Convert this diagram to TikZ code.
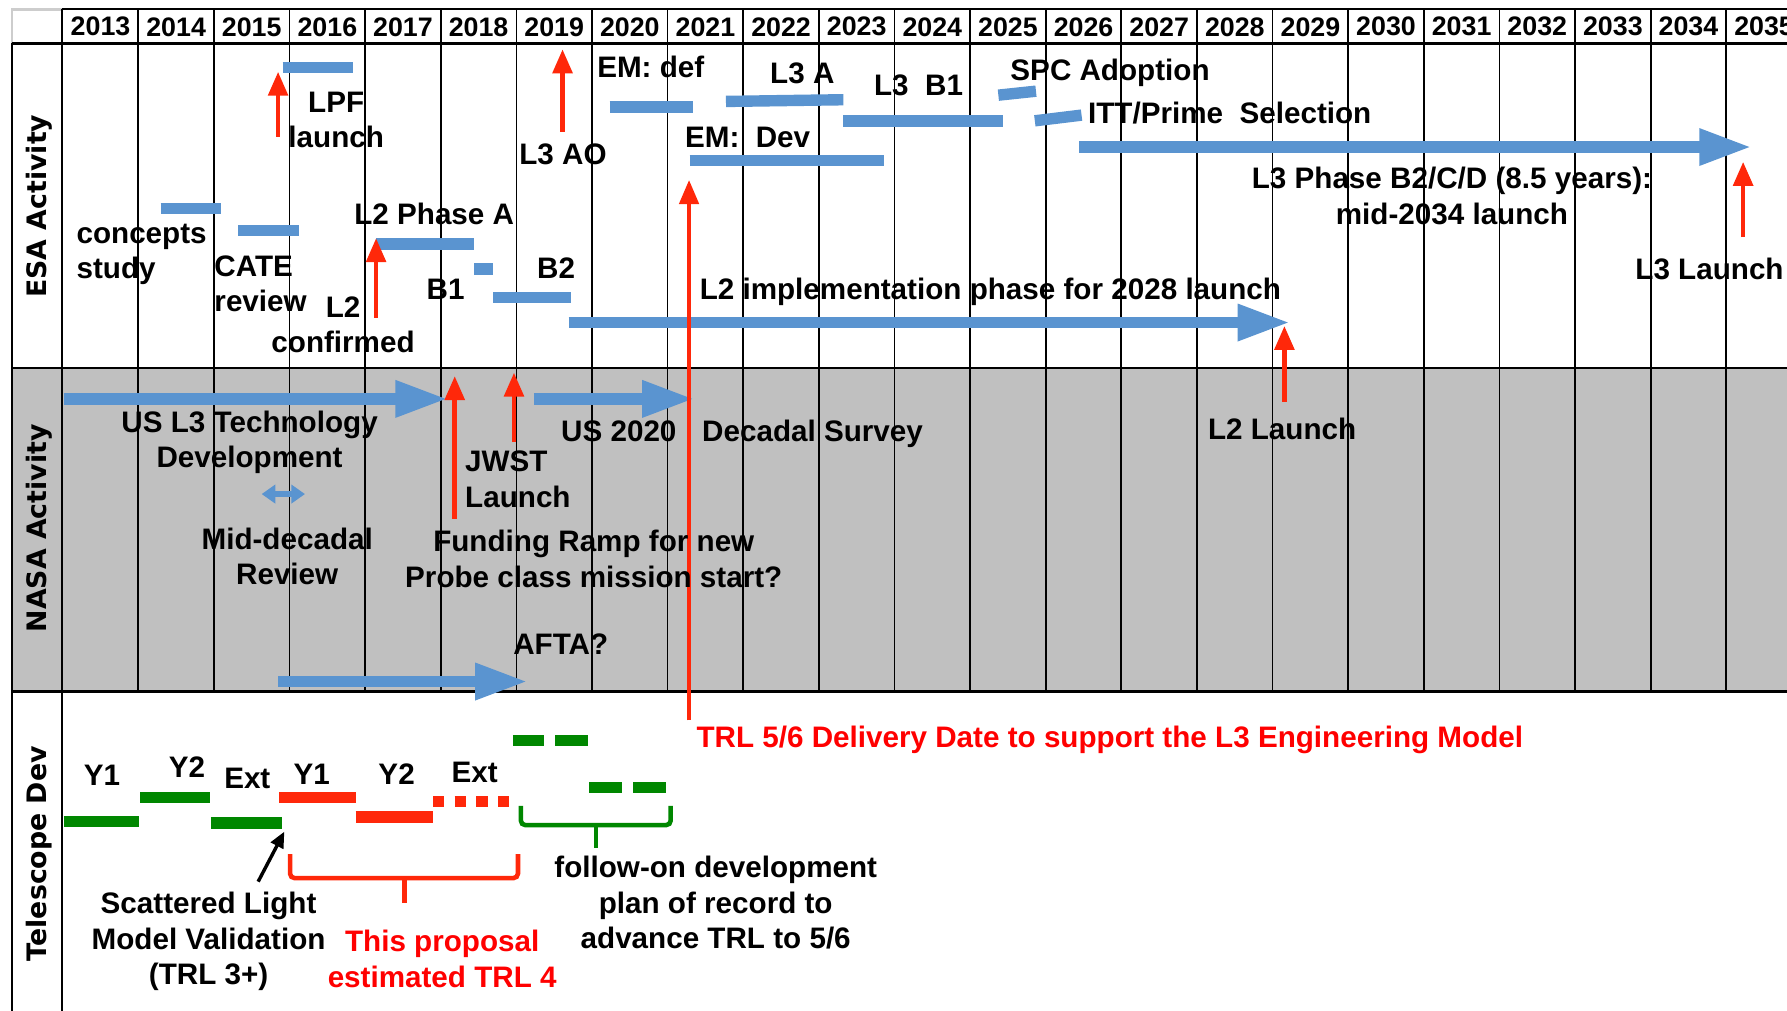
\documentclass[tikz,border=0pt]{standalone}
\usepackage{fontspec}
\setmainfont{Liberation Sans}
\newfontfamily\labfont{DejaVu Sans}
\usetikzlibrary{arrows.meta}
\definecolor{barblue}{RGB}{90,148,208}
\definecolor{arrred}{RGB}{255,40,10}
\definecolor{bargreen}{RGB}{0,135,0}
\definecolor{txtred}{RGB}{255,0,0}
\definecolor{nasagray}{RGB}{192,192,192}
\definecolor{cellgray}{RGB}{205,205,205}
\tikzset{
  txt/.style={font=\bfseries\fontsize{26}{31}\selectfont, inner sep=0pt, align=center},
  yr/.style={font=\bfseries\fontsize{23.5}{28}\selectfont, inner sep=0pt},
  rowlab/.style={font=\labfont\bfseries\fontsize{23.5}{28}\selectfont, rotate=90, inner sep=0pt},
  vline/.style={black, line width=1.5pt},
  hline/.style={black, line width=2.3pt},
  bluebar/.style={barblue, line width=10pt},
  bigarrow/.style={barblue, line width=10pt, -{Triangle[length=46pt,width=30pt]}},
  redarrow/.style={arrred, line width=4pt, -{Triangle[length=21pt,width=17pt]}},
  greenbar/.style={bargreen, line width=10pt},
  redbar/.style={arrred, line width=10pt},
  bracket/.style={line width=4pt, rounded corners=4pt}
}
\begin{document}
\begin{tikzpicture}[x=1pt,y=-1pt]
\useasboundingbox (0,0) rectangle (1568,887);
\clip (0,0) rectangle (1568,887);
\fill[white] (0,0) rectangle (1568,887);
% NASA band
\fill[nasagray] (10.5,323) rectangle (1568,607);
% grid
\draw[cellgray, line width=2.5pt] (10.5,38) -- (10.5,8) -- (54.5,8);
\draw[hline] (54.5,8) -- (1568,8);
\draw[vline] (10.5,38) -- (10.5,887);
\draw[vline] (54.5,8) -- (54.5,887);
\foreach \k in {1,...,22} \draw[vline] ({55+66.35*\k},8) -- ({55+66.35*\k},607);
\foreach \yy in {38,323,607} \draw[hline] (10.5,\yy) -- (1568,\yy);
% years
\foreach \yr [count=\i from 0] in {2013,...,2035}
  \node[yr] (y\i) at ({55+66.35*\i+33.2},23.5) {\yr};
% row labels
\node[rowlab] (esa) at (34,181) {ESA Activity};
\node[rowlab] (nasa) at (34,463.5) {NASA Activity};
\node[rowlab] (tel) at (34,749) {Telescope Dev};
% ESA blue bars
\draw[bluebar] (248,59) -- (310,59);
\draw[bluebar] (141,183) -- (194,183);
\draw[bluebar] (209,202) -- (262,202);
\draw[bluebar] (330,214) -- (416,214);
\draw[bluebar] (416,236) -- (433,236);
\draw[bluebar] (433,261) -- (501,261);
\draw[bluebar] (535,94) -- (608,94);
\draw[bluebar] (637,89) -- (740,87.5);
\draw[bluebar] (740,106) -- (880,106);
\draw[bluebar] (605,141) -- (776,141);
\draw[bluebar] (876,83.5) -- (909,80);
\draw[bluebar] (908,106) -- (949,101);
\draw[bigarrow] (499,283) -- (1132,283);
\draw[bigarrow] (947,129) -- (1537,129);
% NASA blue arrows
\draw[bigarrow] (56,350) -- (393,350);
\draw[bigarrow] (468.5,350) -- (609.5,350);
\draw[bigarrow] (244,598) -- (463,598);
\draw[barblue, line width=5pt, {Triangle[length=12pt,width=16pt]}-{Triangle[length=12pt,width=16pt]}] (229.6,433.5) -- (267.6,433.5);
% red arrows
\draw[redarrow] (244,120) -- (244,63);
\draw[redarrow] (493.6,115.5) -- (493.6,43.3);
\draw[redarrow] (330,279) -- (330,209);
\draw[redarrow, line width=3pt] (604.6,632) -- (604.6,158);
\draw[redarrow] (1529.5,208) -- (1529.5,142);
\draw[redarrow] (1127,352.5) -- (1127,286);
\draw[redarrow] (399,455) -- (399,330);
\draw[redarrow] (451,388) -- (451,327);
% telescope bars
\draw[greenbar] (56,721) -- (122,721);
\draw[greenbar] (123,699.6) -- (184,699.6);
\draw[greenbar] (185,722) -- (247,722);
\draw[redbar] (245,700) -- (312,700);
\draw[redbar] (312,717) -- (380,717);
\draw[redbar, dash pattern=on 10pt off 9pt] (380,703) -- (448,703);
\draw[greenbar] (450,650) -- (477.5,650);
\draw[greenbar] (487,650) -- (516,650);
\draw[greenbar] (517,691) -- (546,691);
\draw[greenbar] (555.5,691) -- (584.5,691);
% brackets
\draw[bracket, bargreen] (457,707) -- (457,724) -- (588.5,724) -- (588.5,707);
\draw[bargreen, line width=4pt] (523,724) -- (523,744);
\draw[bracket, arrred] (254.5,749.5) -- (254.5,770.5) -- (454.5,770.5) -- (454.5,749.5);
\draw[arrred, line width=4pt] (355,770.5) -- (355,792.5);
\draw[black, line width=3pt, -{Triangle[length=14pt,width=12pt]}] (226.5,773.6) -- (249.5,729.7);
% ESA texts
\node[txt] (lpf) at (295,105) {LPF\\launch};
\node[txt, anchor=west, align=left] (concepts) at (67,223) {concepts\\study};
\node[txt, anchor=west, align=left] (cate) at (188,249) {CATE\\review};
\node[txt] (l2conf) at (301,285) {L2\\confirmed};
\node[txt] (l2pa) at (381,188) {L2 Phase A};
\node[txt] (b1) at (391,254) {B1};
\node[txt] (b2) at (488,235) {B2};
\node[txt] (l3ao) at (494,135) {L3 AO};
\node[txt] (emdef) at (571,59) {EM: def};
\node[txt] (l3a) at (704,64) {L3 A};
\node[txt] (l3b1) at (806,75) {L3\ \ B1};
\node[txt] (spc) at (974,63.5) {SPC Adoption};
\node[txt] (itt) at (1079,99) {ITT/Prime\ \ Selection};
\node[txt] (emdev) at (656,121) {EM:\ \ Dev};
\node[txt] (l3bcd) at (1274,172) {L3 Phase B2/C/D (8.5 years):\\mid-2034 launch};
\node[txt] (l3launch) at (1500,236) {L3 Launch};
\node[txt] (l2impl) at (869,256) {L2 implementation phase for 2028 launch};
% NASA texts
\node[txt] (usl3) at (219,388) {US L3 Technology\\Development};
\node[txt] (middec) at (252,488) {Mid-decadal\\Review};
\node[txt, anchor=west, align=left] (jwst) at (408,420.5) {JWST\\Launch};
\node[txt] (funding) at (521,490.5) {Funding Ramp for new\\Probe class mission start?};
\node[txt] (us2020) at (543,378) {US 2020};
\node[txt] (decadal) at (713,380.5) {Decadal Survey};
\node[txt] (l2launch) at (1125,376) {L2 Launch};
\node[txt] (afta) at (492,565) {AFTA?};
% Telescope texts
\node[txt, txtred, anchor=west] (trl) at (611,649.5) {TRL 5/6 Delivery Date to support the L3 Engineering Model};
\node[txt] (ya1) at (89.5,680) {Y1};
\node[txt] (ya2) at (164,673) {Y2};
\node[txt] (yaext) at (217,683) {Ext};
\node[txt] (yb1) at (273.5,679) {Y1};
\node[txt] (yb2) at (348,679) {Y2};
\node[txt] (ybext) at (416.5,678) {Ext};
\node[txt] (scat) at (183,826) {Scattered Light\\Model Validation\\(TRL 3+)};
\node[txt, txtred] (prop) at (388,841.5) {This proposal\\estimated TRL 4};
\node[txt] (follow) at (628,792) {follow-on development\\plan of record to\\advance TRL to 5/6};
\end{tikzpicture}
\end{document}
